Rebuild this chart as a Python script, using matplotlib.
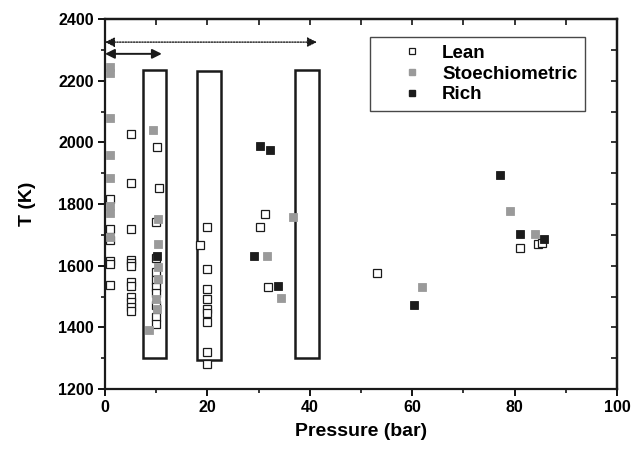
import matplotlib
matplotlib.use("Agg")
import matplotlib.pyplot as plt
from matplotlib.patches import Rectangle
from matplotlib.ticker import MultipleLocator
from matplotlib.lines import Line2D

plt.rcParams['font.family'] = ['Liberation Sans', 'DejaVu Sans']
plt.rcParams['font.weight'] = 'bold'

# ---- data ----
lean_p = [1, 1, 1, 1, 1, 1,
          5, 5, 5, 5, 5, 5, 5, 5, 5, 5, 5, 5,
          10.1, 10.6, 10, 9.9, 9.9, 9.9, 9.9, 9.9, 9.9, 9.9, 9.9,
          20, 18.6, 20, 20, 20, 20, 20, 20, 20, 20,
          31.2, 30.3, 31.8, 53.2, 81, 84.5, 85.4]
lean_t = [1817, 1720, 1683, 1614, 1605, 1536,
          2027, 1868, 1718, 1620, 1608, 1598, 1547, 1533, 1500, 1481, 1467, 1452,
          1986, 1851, 1742, 1625, 1578, 1555, 1532, 1512, 1472, 1435, 1412,
          1726, 1667, 1588, 1525, 1491, 1458, 1448, 1416, 1321, 1282,
          1767, 1727, 1530, 1575, 1656, 1670, 1675]

stoich_p = [1, 1, 1, 1, 1, 1, 1, 1,
            9.3, 10.4, 10.4, 10.4, 10.4, 9.9, 10.2, 8.5,
            31.6, 36.8, 34.4, 61.9, 79.1, 84]
stoich_t = [2245, 2225, 2079, 1959, 1884, 1795, 1770, 1694,
            2039, 1751, 1671, 1596, 1556, 1491, 1460, 1390,
            1630, 1759, 1495, 1532, 1776, 1703]

rich_p = [10.1, 30.2, 32.2, 29.1, 33.8, 60.3, 77.1, 81, 85.8]
rich_t = [1632, 1988, 1975, 1630, 1533, 1474, 1894, 1703, 1687]

series_labels = ['Lean', 'Stoechiometric', 'Rich']

# pressure windows (x0, x1, T0, T1)
box_x0 = [7.5, 17.9, 37.1]
box_x1 = [12.0, 22.6, 41.8]
box_t0 = [1300, 1294, 1300]
box_t1 = [2235, 2230, 2235]

# range arrows (x end, T level)
arrow_dotted = (41.4, 2325)
arrow_solid = (11.1, 2287)

# ---- figure ----
fig = plt.figure(figsize=(6.33, 4.55), dpi=100)
ax = fig.add_axes([105/633, 1-389/455, 512/633, 370/455])

ms = 5.8
ax.plot(lean_p, lean_t, ls='none', marker='s', ms=ms, mfc='white', mec='#1a1a1a', mew=0.9, zorder=3)
ax.plot(stoich_p, stoich_t, ls='none', marker='s', ms=ms, mfc='#9a9a9a', mec='#9a9a9a', mew=0.6, zorder=4)
ax.plot(rich_p, rich_t, ls='none', marker='s', ms=ms, mfc='#1c1c1c', mec='#1c1c1c', mew=0.6, zorder=5)

for x0, x1, t0, t1 in zip(box_x0, box_x1, box_t0, box_t1):
    ax.add_patch(Rectangle((x0, t0), x1-x0, t1-t0, fill=False, ec='#1a1a1a', lw=1.8, zorder=2))

ax.annotate('', xy=(0, arrow_dotted[1]), xytext=(arrow_dotted[0], arrow_dotted[1]),
            arrowprops=dict(arrowstyle='<|-|>', ls=(0, (1, 1)), lw=1.0, color='#1a1a1a',
                            mutation_scale=14, shrinkA=0, shrinkB=0))
ax.annotate('', xy=(0, arrow_solid[1]), xytext=(arrow_solid[0], arrow_solid[1]),
            arrowprops=dict(arrowstyle='<|-|>', lw=1.4, color='#1a1a1a',
                            mutation_scale=14, shrinkA=0, shrinkB=0))

ax.set_xlim(0, 100)
ax.set_ylim(1200, 2400)
ax.xaxis.set_major_locator(MultipleLocator(20))
ax.xaxis.set_minor_locator(MultipleLocator(10))
ax.yaxis.set_major_locator(MultipleLocator(200))
ax.yaxis.set_minor_locator(MultipleLocator(100))
ax.tick_params(which='major', direction='out', length=5, width=1.3, labelsize=11.5, pad=3)
ax.tick_params(which='minor', direction='out', length=3, width=1.1)
for lab in ax.get_xticklabels() + ax.get_yticklabels():
    lab.set_fontweight('bold')

for s in ax.spines.values():
    s.set_linewidth(1.6)
    s.set_color('#1a1a1a')

top = ax.secondary_xaxis('top')
top.xaxis.set_major_locator(MultipleLocator(10))
top.tick_params(direction='in', length=4, width=1.1, labeltop=False)
top.spines['top'].set_linewidth(1.6)
right = ax.secondary_yaxis('right')
right.yaxis.set_major_locator(MultipleLocator(100))
right.tick_params(direction='in', length=4, width=1.1, labelright=False)
right.spines['right'].set_linewidth(1.6)

ax.set_xlabel('Pressure (bar)', fontsize=14, fontweight='bold', labelpad=6)
ax.set_ylabel('T (K)', fontsize=14, fontweight='bold', labelpad=16)

handles = [
    Line2D([], [], ls='none', marker='s', ms=5, mfc='white', mec='#1a1a1a', mew=0.9),
    Line2D([], [], ls='none', marker='s', ms=5, mfc='#9a9a9a', mec='#9a9a9a'),
    Line2D([], [], ls='none', marker='s', ms=5, mfc='#1c1c1c', mec='#1c1c1c'),
]
leg = ax.legend(handles, series_labels, loc='upper left', bbox_to_anchor=(0.5176, 0.951),
                borderaxespad=0, frameon=True, fancybox=False,
                prop={'weight': 'bold', 'size': 13.5}, handlelength=3.66, handletextpad=-0.23,
                borderpad=0.41, labelspacing=0.19)
leg.get_frame().set_edgecolor('#1a1a1a')
leg.get_frame().set_linewidth(1.0)
leg.get_frame().set_boxstyle('square', pad=0)
leg.set_zorder(6)

fig.savefig('out.png', dpi=100)
